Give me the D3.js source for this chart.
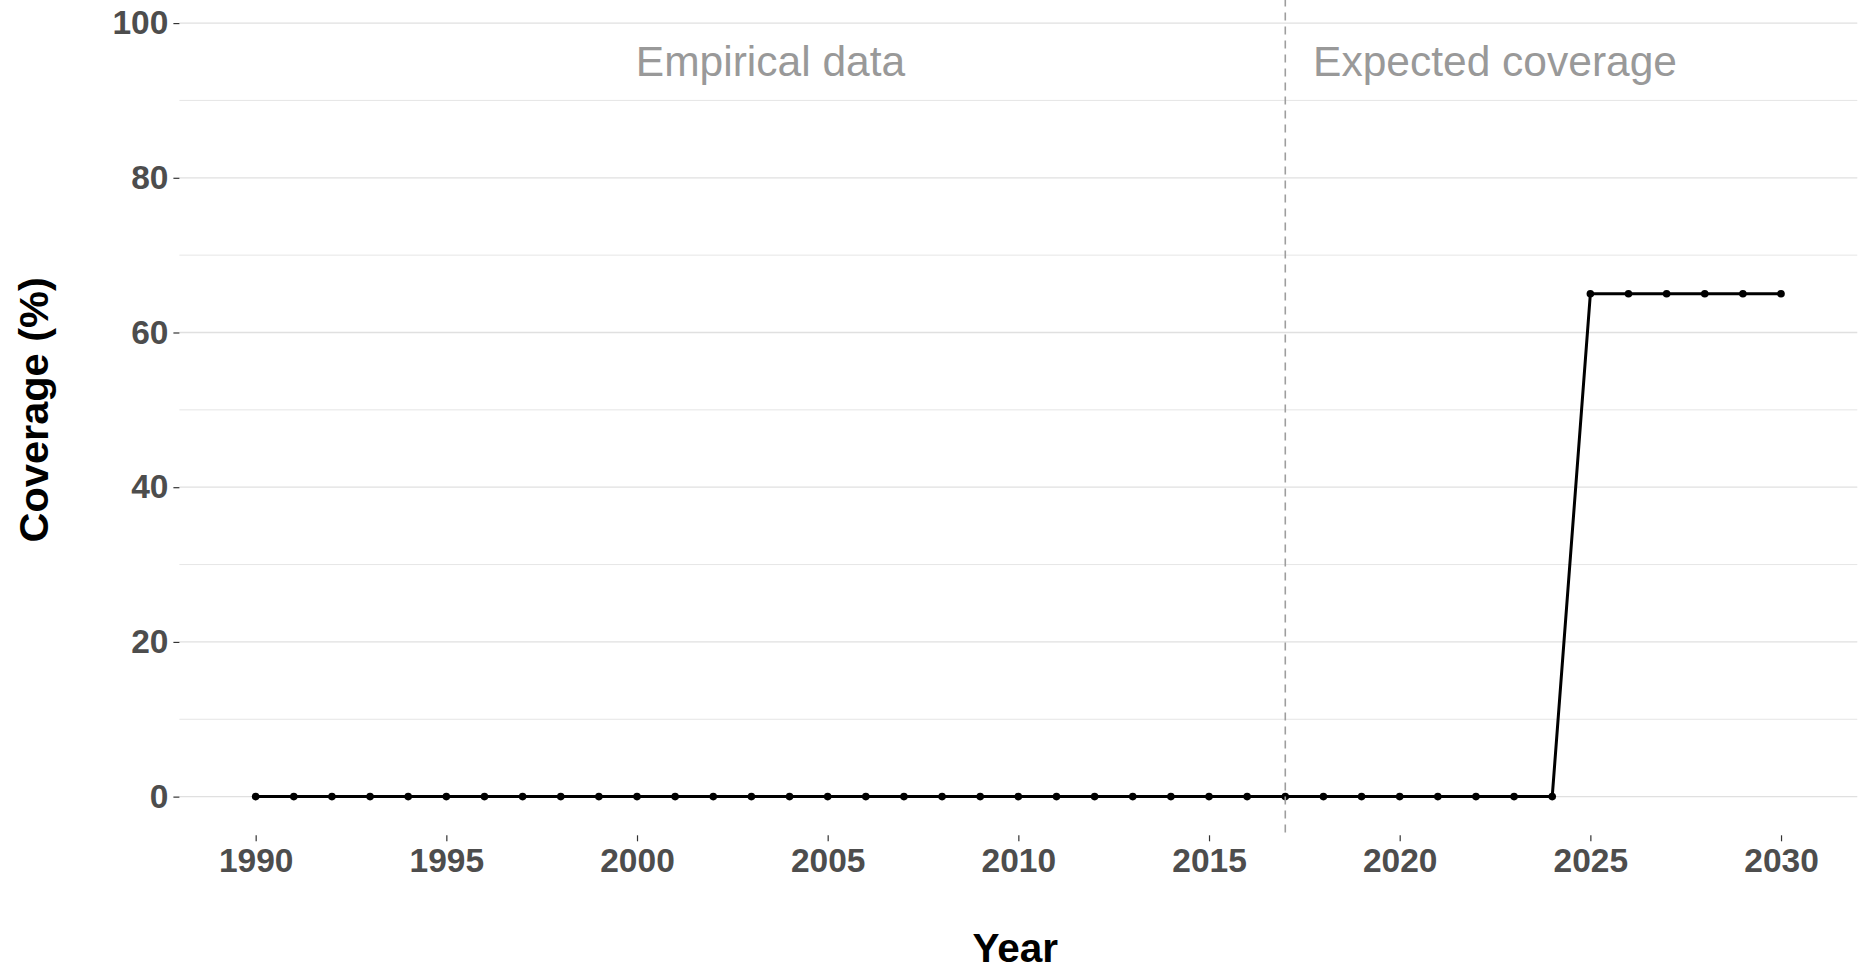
<!DOCTYPE html>
<html>
<head>
<meta charset="utf-8">
<script src="https://cdn.jsdelivr.net/npm/d3@7"></script>
<style>
  html, body { margin: 0; padding: 0; background: #ffffff; }
  svg { display: block; }
  text { font-family: "Liberation Sans", Arial, Helvetica, sans-serif; }
</style>
</head>
<body>
<svg id="chart" width="1859" height="970"></svg>
<script>
// ---- data ----
const years = [1990, 1991, 1992, 1993, 1994, 1995, 1996, 1997, 1998, 1999,
               2000, 2001, 2002, 2003, 2004, 2005, 2006, 2007, 2008, 2009,
               2010, 2011, 2012, 2013, 2014, 2015, 2016, 2017, 2018, 2019,
               2020, 2021, 2022, 2023, 2024, 2025, 2026, 2027, 2028, 2029, 2030];
const coverage = [0, 0, 0, 0, 0, 0, 0, 0, 0, 0,
                  0, 0, 0, 0, 0, 0, 0, 0, 0, 0,
                  0, 0, 0, 0, 0, 0, 0, 0, 0, 0,
                  0, 0, 0, 0, 0, 65, 65, 65, 65, 65, 65];
const xTickValues = [1990, 1995, 2000, 2005, 2010, 2015, 2020, 2025, 2030];
const yTickValues = [0, 20, 40, 60, 80, 100];
const yMinorValues = [10, 30, 50, 70, 90];
const splitYear = 2017;
const periodLabels = ["Empirical data", "Expected coverage"];
const periodLabelX = [2003.5, 2022.5];
const periodLabelY = 95;
const xTitle = "Year";
const yTitle = "Coverage (%)";

// ---- layout ----
const svg = d3.select("#chart");
const panel = { left: 179.4, right: 1857.3, top: -15.6, bottom: 835.3 };

const x = d3.scaleLinear().domain([1988, 2032]).range([panel.left, panel.right]);
const y = d3.scaleLinear().domain([-5, 105]).range([panel.bottom, panel.top]);

const data = years.map((yr, i) => ({ year: yr, value: coverage[i] }));

// grid
const grid = svg.append("g");
grid.selectAll("line.minor").data(yMinorValues).enter().append("line")
  .attr("x1", panel.left).attr("x2", panel.right)
  .attr("y1", d => y(d)).attr("y2", d => y(d))
  .attr("stroke", "#e6e6e6").attr("stroke-width", 1);
grid.selectAll("line.major").data(yTickValues).enter().append("line")
  .attr("x1", panel.left).attr("x2", panel.right)
  .attr("y1", d => y(d)).attr("y2", d => y(d))
  .attr("stroke", "#e0e0e0").attr("stroke-width", 1.3);

// y axis
const yAxis = d3.axisLeft(y).tickValues(yTickValues).tickSize(6).tickPadding(5);
const gy = svg.append("g").attr("transform", `translate(${panel.left},0)`).call(yAxis);
gy.select(".domain").remove();
gy.selectAll(".tick line").attr("stroke", "#333333").attr("stroke-width", 1.2);
gy.selectAll(".tick text")
  .attr("fill", "#4d4d4d").attr("font-size", 33.5).attr("font-weight", "bold")
  .attr("font-family", "Liberation Sans, Arial, sans-serif");

// x axis
const xAxis = d3.axisBottom(x).tickValues(xTickValues).tickFormat(d3.format("d")).tickSize(6).tickPadding(5);
const gx = svg.append("g").attr("transform", `translate(0,${panel.bottom})`).call(xAxis);
gx.select(".domain").remove();
gx.selectAll(".tick line").attr("stroke", "#333333").attr("stroke-width", 1.2);
gx.selectAll(".tick text")
  .attr("fill", "#4d4d4d").attr("font-size", 33.5).attr("font-weight", "bold")
  .attr("font-family", "Liberation Sans, Arial, sans-serif")
  .attr("dy", null).attr("y", 36.5);

// data line
const line = d3.line().x(d => x(d.year)).y(d => y(d.value));
svg.append("path").datum(data)
  .attr("d", line).attr("fill", "none")
  .attr("stroke", "#000000").attr("stroke-width", 3)
  .attr("stroke-linejoin", "round");

svg.selectAll("circle.pt").data(data).enter().append("circle")
  .attr("cx", d => x(d.year)).attr("cy", d => y(d.value))
  .attr("r", 3.8).attr("fill", "#000000");

// split line
svg.append("line")
  .attr("x1", x(splitYear)).attr("x2", x(splitYear))
  .attr("y1", panel.top).attr("y2", panel.bottom)
  .attr("stroke", "#9e9e9e").attr("stroke-width", 1.6)
  .attr("stroke-dasharray", "8,6");

// period labels
svg.selectAll("text.period").data(periodLabels).enter().append("text")
  .attr("x", (d, i) => x(periodLabelX[i])).attr("y", y(periodLabelY))
  .attr("text-anchor", "middle").attr("dominant-baseline", "central")
  .attr("fill", "#999999").attr("font-size", 42.5)
  .text(d => d);

// axis titles
svg.append("text")
  .attr("x", (panel.left + panel.right) / 2 - 3).attr("y", 961.5)
  .attr("text-anchor", "middle").attr("font-size", 40.5).attr("font-weight", "bold")
  .attr("fill", "#000000").text(xTitle);

svg.append("text")
  .attr("transform", `translate(48,${(panel.top + panel.bottom) / 2}) rotate(-90)`)
  .attr("text-anchor", "middle").attr("font-size", 41.5).attr("font-weight", "bold")
  .attr("fill", "#000000").text(yTitle);
</script>
</body>
</html>
